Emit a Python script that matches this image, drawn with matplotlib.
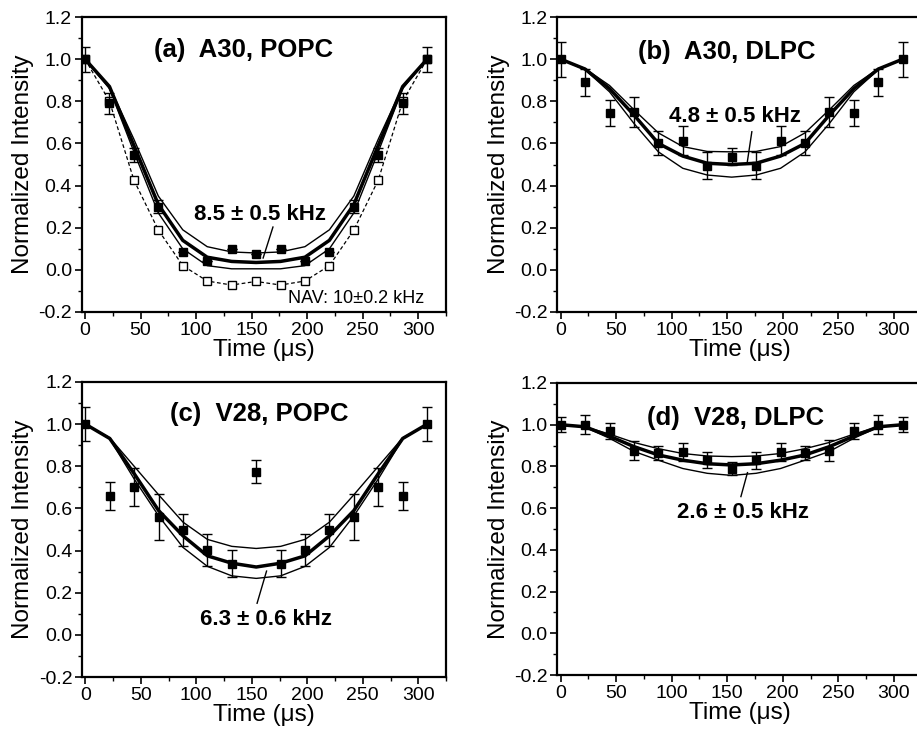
import matplotlib
matplotlib.use("Agg")
import matplotlib.pyplot as plt
from matplotlib.ticker import MultipleLocator, FormatStrFormatter

plt.rcParams['font.family'] = ['Liberation Sans', 'DejaVu Sans']
plt.rcParams['axes.unicode_minus'] = False

# ---------------- data ----------------
time_us = [0, 22, 44, 66, 88, 110, 132, 154, 176, 198, 220, 242, 264, 286, 308]

# (a) A30, POPC
a_exp = [1.0, 0.79, 0.545, 0.30, 0.086, 0.042, 0.097, 0.075, 0.097, 0.042, 0.085, 0.30, 0.545, 0.79, 1.0]
a_err = [0.06, 0.05, 0.035, 0.03, 0.0, 0.0, 0.0, 0.0, 0.0, 0.0, 0.0, 0.03, 0.035, 0.05, 0.06]
a_nav = [1.0, 0.80, 0.426, 0.189, 0.02, -0.053, -0.072, -0.055, -0.072, -0.053, 0.02, 0.189, 0.426, 0.80, 1.0]
a_up = [1.0, 0.87, 0.62, 0.35, 0.19, 0.11, 0.085, 0.08, 0.085, 0.11, 0.19, 0.35, 0.62, 0.87, 1.0]
a_mid = [1.0, 0.87, 0.59, 0.31, 0.14, 0.06, 0.04, 0.035, 0.04, 0.06, 0.14, 0.31, 0.59, 0.87, 1.0]
a_low = [1.0, 0.86, 0.56, 0.27, 0.10, 0.02, 0.005, 0.005, 0.005, 0.02, 0.10, 0.27, 0.56, 0.86, 1.0]

# (b) A30, DLPC
b_exp = [1.0, 0.89, 0.745, 0.75, 0.603, 0.613, 0.494, 0.537, 0.494, 0.613, 0.603, 0.75, 0.745, 0.89, 1.0]
b_err = [0.083, 0.065, 0.063, 0.07, 0.057, 0.07, 0.063, 0.04, 0.063, 0.07, 0.057, 0.07, 0.063, 0.065, 0.083]
b_up = [1.0, 0.955, 0.875, 0.76, 0.65, 0.585, 0.562, 0.56, 0.562, 0.585, 0.65, 0.76, 0.875, 0.955, 1.0]
b_mid = [1.0, 0.953, 0.86, 0.735, 0.60, 0.54, 0.506, 0.50, 0.506, 0.54, 0.60, 0.735, 0.86, 0.953, 1.0]
b_low = [1.0, 0.95, 0.845, 0.695, 0.56, 0.482, 0.45, 0.44, 0.45, 0.482, 0.56, 0.695, 0.845, 0.95, 1.0]

# (c) V28, POPC
c_exp = [1.0, 0.66, 0.70, 0.559, 0.498, 0.403, 0.338, 0.775, 0.338, 0.403, 0.498, 0.559, 0.70, 0.66, 1.0]
c_err = [0.08, 0.067, 0.09, 0.11, 0.075, 0.078, 0.063, 0.053, 0.063, 0.078, 0.075, 0.11, 0.09, 0.067, 0.08]
c_up = [1.0, 0.935, 0.80, 0.665, 0.535, 0.453, 0.42, 0.41, 0.42, 0.453, 0.535, 0.665, 0.80, 0.935, 1.0]
c_mid = [1.0, 0.932, 0.765, 0.59, 0.47, 0.375, 0.34, 0.322, 0.34, 0.375, 0.47, 0.59, 0.765, 0.932, 1.0]
c_low = [1.0, 0.93, 0.74, 0.565, 0.415, 0.325, 0.28, 0.268, 0.28, 0.325, 0.415, 0.565, 0.74, 0.93, 1.0]

# (d) V28, DLPC
d_exp = [1.0, 1.0, 0.97, 0.875, 0.865, 0.87, 0.83, 0.79, 0.83, 0.87, 0.865, 0.875, 0.97, 1.0, 1.0]
d_err = [0.036, 0.046, 0.038, 0.046, 0.032, 0.042, 0.038, 0.032, 0.04, 0.042, 0.032, 0.05, 0.038, 0.046, 0.036]
d_up = [1.0, 0.99, 0.955, 0.915, 0.885, 0.862, 0.85, 0.847, 0.85, 0.862, 0.885, 0.915, 0.955, 0.99, 1.0]
d_mid = [1.0, 0.99, 0.945, 0.895, 0.855, 0.83, 0.813, 0.807, 0.813, 0.83, 0.855, 0.895, 0.945, 0.99, 1.0]
d_low = [1.0, 0.988, 0.935, 0.872, 0.83, 0.79, 0.767, 0.757, 0.767, 0.79, 0.83, 0.872, 0.935, 0.988, 1.0]

titles = ["(a)  A30, POPC", "(b)  A30, DLPC", "(c)  V28, POPC", "(d)  V28, DLPC"]
fits = ["8.5 \u00b1 0.5 kHz", "4.8 \u00b1 0.5 kHz", "6.3 \u00b1 0.6 kHz", "2.6 \u00b1 0.5 kHz"]
nav_label = "NAV: 10\u00b10.2 kHz"

# ---------------- figure ----------------
W, H = 917, 732
fig = plt.figure(figsize=(W / 100, H / 100), dpi=100)

def px_axes(left, top, right, bottom):
    return fig.add_axes([left / W, 1 - bottom / H, (right - left) / W, (bottom - top) / H])

axA = px_axes(81.7, 17, 446, 312)
axB = px_axes(557.3, 17, 921.6, 312)
axC = px_axes(82, 382, 446, 677)
axD = px_axes(557.3, 383, 921.6, 675)

panels = [
    (axA, a_exp, a_err, a_up, a_mid, a_low),
    (axB, b_exp, b_err, b_up, b_mid, b_low),
    (axC, c_exp, c_err, c_up, c_mid, c_low),
    (axD, d_exp, d_err, d_up, d_mid, d_low),
]

title_pos = [(0.445, 0.888), (0.464, 0.882), (0.488, 0.893), (0.488, 0.881)]
fit_text = [(0.489, 0.329), (0.488, 0.662), (0.506, 0.196), (0.509, 0.556)]
fit_line = [((0.525, 0.288), (0.498, 0.183)),
            ((0.534, 0.611), (0.521, 0.504)),
            ((0.481, 0.250), (0.507, 0.359)),
            ((0.504, 0.611), (0.522, 0.693))]

for i, (ax, exp, err, up, mid, low) in enumerate(panels):
    ax.plot(time_us, up, color='black', lw=1.0, zorder=2)
    ax.plot(time_us, low, color='black', lw=1.0, zorder=2)
    ax.plot(time_us, mid, color='black', lw=2.5, zorder=2)
    if i == 0:
        ax.plot(time_us, a_nav, color='black', lw=0.9, ls=(0, (3, 2)), marker='s',
                ms=5.5, mfc='white', mec='black', mew=1.0, zorder=3)
    ax.errorbar(time_us, exp, yerr=err, fmt='s', color='black', ms=6,
                ecolor='black', elinewidth=1.0, capsize=3.6, capthick=1.0, zorder=4)

    ax.set_xlim(-3, 325)
    ax.set_ylim(-0.2, 1.2)
    ax.xaxis.set_major_locator(MultipleLocator(50))
    ax.xaxis.set_minor_locator(MultipleLocator(25))
    ax.yaxis.set_major_locator(MultipleLocator(0.2))
    ax.yaxis.set_minor_locator(MultipleLocator(0.1))
    ax.yaxis.set_major_formatter(FormatStrFormatter('%.1f'))
    ax.tick_params(which='both', direction='out', top=False, right=False, labelsize=14, pad=2)
    ax.tick_params(which='major', length=5, width=1.2)
    ax.tick_params(which='minor', length=3, width=1.0)
    for s in ax.spines.values():
        s.set_linewidth(1.6)
    ax.set_xlabel("Time (\u03bcs)", fontsize=17.5, labelpad=0)
    ax.set_ylabel("Normalized Intensity", fontsize=17.5, labelpad=3)

    ax.text(*title_pos[i], titles[i], transform=ax.transAxes, ha='center', va='center',
            fontsize=18.5, fontweight='bold')
    ax.text(*fit_text[i], fits[i], transform=ax.transAxes, ha='center', va='center',
            fontsize=16, fontweight='bold')
    (x0, y0), (x1, y1) = fit_line[i]
    ax.plot([x0, x1], [y0, y1], transform=ax.transAxes, color='black', lw=1.0, zorder=5)

axA.text(0.94, 0.047, nav_label, transform=axA.transAxes, ha='right', va='center', fontsize=13)

fig.savefig("out.png", dpi=100)
